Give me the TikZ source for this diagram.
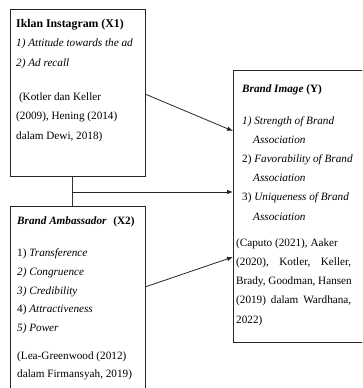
\documentclass[tikz,border=0pt]{standalone}
\usepackage{fontspec}
\setmainfont{Liberation Serif}
\usetikzlibrary{arrows.meta}
\newcommand{\jline}[1]{\makebox[115pt][s]{#1}}
\begin{document}
\begin{tikzpicture}[x=1pt,y=-1pt,
  box/.style={draw=black!85,line width=0.8pt,inner sep=0pt,anchor=north west},
  txt/.style={anchor=north west,inner sep=0pt,align=left,font=\fontsize{11.2}{19.4}\selectfont},
  line/.style={draw=black!80,line width=0.8pt},
  arr/.style={draw=black!85,line width=0.8pt,-{Latex[length=6pt,width=4.5pt]}}]
\useasboundingbox (0,0) rectangle (362,388);
\begin{scope}
\clip (0,0) rectangle (362,388);
% boxes
\node[box,minimum width=135pt,minimum height=167pt] (x1) at (10,9) {};
\node[box,minimum width=135pt,minimum height=190pt] (x2) at (10,206) {};
\node[box,minimum width=130pt,minimum height=272pt] (y) at (233,70) {};
% texts
\node[txt] (t1) at (16,19) {{\fontsize{11.8}{19.4}\selectfont\textbf{Iklan Instagram (X1)}}\\
\textit{1) Attitude towards the ad}\\
\textit{2) Ad recall}\\[15pt]
\ (Kotler dan Keller\\
(2009), Hening (2014)\\
dalam Dewi, 2018)};
\node[txt,font=\fontsize{11.2}{18.7}\selectfont] (t2) at (17,217) {\textbf{\textit{Brand Ambassador}\hspace{4pt} (X2)}\\[13pt]
1) \textit{Transference}\\
\textit{2) Congruence}\\
\textit{3) Credibility}\\
4) \textit{Attractiveness}\\
\textit{5) Power}\\[9pt]
(Lea-Greenwood (2012)\\
dalam Firmansyah, 2019)};
\node[txt,font=\fontsize{11.2}{19.2}\selectfont] (t3) at (236,85) {\hspace*{6pt}\textbf{\textit{Brand Image} (Y)}\\[12pt]
\hspace*{6pt}\textit{1) Strength of Brand}\\
\hspace*{17pt}\textit{Association}\\
\hspace*{6pt}2) \textit{Favorability of Brand}\\
\hspace*{17pt}\textit{Association}\\
\hspace*{6pt}3) \textit{Uniqueness of Brand}\\
\hspace*{17pt}\textit{Association}\\[7pt]
(Caputo (2021), Aaker\\
\jline{(2020), Kotler, Keller,}\\
Brady, Goodman, Hansen\\
\jline{(2019) dalam Wardhana,}\\
2022)};
% connector points
\coordinate (a1s) at (145,94);
\coordinate (a1e) at (233,131);
\coordinate (jn) at (72,192);
\coordinate (a2e) at (233,192);
\coordinate (a3s) at (145,287);
\coordinate (a3e) at (233,257);
\draw[arr] (a1s) -- (a1e);
\draw[line] (x1.south -| jn) -- (x2.north -| jn);
\draw[arr] (jn) -- (a2e);
\draw[arr] (a3s) -- (a3e);
\end{scope}
\end{tikzpicture}
\end{document}
